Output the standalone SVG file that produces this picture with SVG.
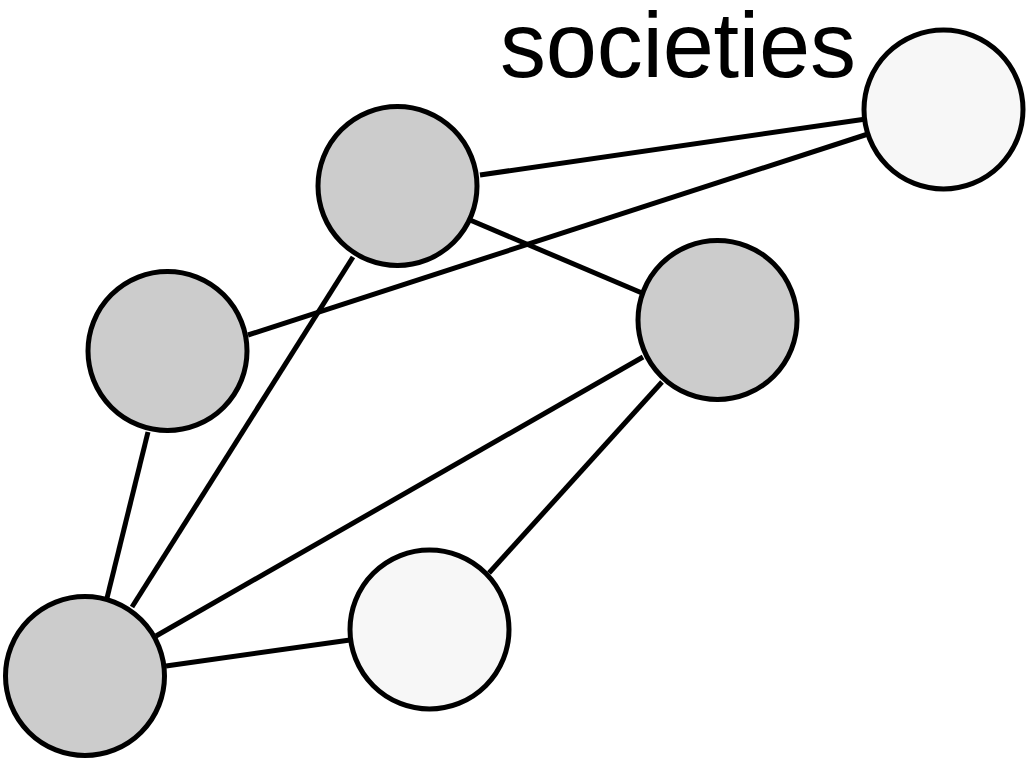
<svg xmlns="http://www.w3.org/2000/svg" width="1028" height="763" viewBox="0 0 1028 763">
  <style>
    .edge { stroke: #000; stroke-width: 5; fill: none; }
    .node { stroke: #000; stroke-width: 5; }
    .dark { fill: #cccccc; }
    .light { fill: #f7f7f7; }
    .label { font-family: "Liberation Sans", Arial, sans-serif; font-size: 92px; fill: #000; }
  </style>
  <rect width="1028" height="763" fill="#ffffff"/>
  <g id="connectors">
    <line class="edge" x1="480" y1="175" x2="866" y2="119"/>
    <line class="edge" x1="248" y1="335" x2="868" y2="134"/>
    <line class="edge" x1="470" y1="220" x2="642" y2="293"/>
    <line class="edge" x1="353" y1="257" x2="132" y2="607"/>
    <line class="edge" x1="148" y1="432" x2="107" y2="598"/>
    <line class="edge" x1="643" y1="357" x2="156" y2="636"/>
    <line class="edge" x1="662" y1="382" x2="489" y2="573"/>
    <line class="edge" x1="350" y1="640" x2="166" y2="666"/>
  </g>
  <g id="node-a"><circle class="node dark" cx="397.5" cy="186" r="79.5"/></g>
  <g id="node-b"><circle class="node light" cx="943.5" cy="109.5" r="79.5"/></g>
  <g id="node-c"><circle class="node dark" cx="167.5" cy="351" r="79.5"/></g>
  <g id="node-d"><circle class="node dark" cx="717.5" cy="320" r="79.5"/></g>
  <g id="node-e"><circle class="node dark" cx="85" cy="676" r="79.5"/></g>
  <g id="node-f"><circle class="node light" cx="429.5" cy="629.5" r="79.5"/></g>
  <g id="label"><text class="label" x="500" y="77" textLength="356">societies</text></g>
</svg>
